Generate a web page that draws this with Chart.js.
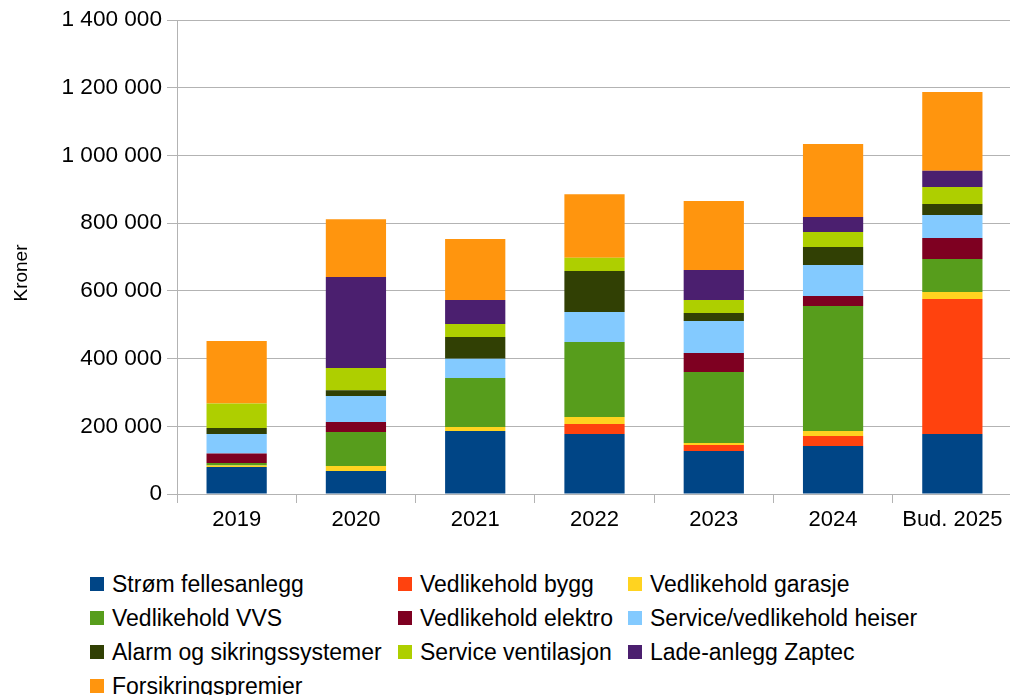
<!DOCTYPE html>
<html lang="no">
<head>
<meta charset="utf-8">
<title>Kostnader per år</title>
<script src="https://cdn.jsdelivr.net/npm/chart.js@4.4.1/dist/chart.umd.min.js"></script>
<style>
  html, body { margin: 0; padding: 0; background: #fff; overflow: hidden; }
  #wrap { position: absolute; left: 0; top: 0; width: 1013px; height: 560px; }
  #legend {
    position: absolute; left: 90px; top: 567px;
    display: grid; grid-template-columns: 308px 230px auto;
    grid-auto-rows: 34px;
    font-family: "Liberation Sans", Arial, sans-serif; font-size: 23px; color: #000;
  }
  .item { display: flex; align-items: center; white-space: nowrap; }
  .sw { width: 14px; height: 14px; margin-right: 8px; flex: none; }
</style>
</head>
<body>
<div id="wrap"><canvas id="c" width="1013" height="560"></canvas></div>
<div id="legend"></div>
<script>
// Years on the category axis
const categories = ['2019', '2020', '2021', '2022', '2023', '2024', 'Bud. 2025'];

// Cost per item in kroner, stacked bottom to top
const stromFellesanlegg   = [80000, 68000, 186000, 177000, 127000, 142000, 177000];
const vedlikeholdBygg     = [0, 0, 0, 29500, 17700, 29500, 399000];
const vedlikeholdGarasje  = [3900, 14800, 11800, 20700, 5900, 14800, 20700];
const vedlikeholdVVS      = [8000, 100000, 144700, 221500, 209700, 369000, 97500];
const vedlikeholdElektro  = [27600, 29500, 0, 0, 56000, 29500, 62000];
const heiser              = [58000, 76800, 57000, 88600, 94500, 91600, 68000];
const alarm               = [17700, 17700, 64000, 121000, 23600, 53000, 32500];
const ventilasjon         = [71800, 65000, 38400, 39400, 38400, 44300, 50200];
const ladeanlegg          = [0, 268800, 70900, 0, 88600, 44300, 48000];
const forsikring          = [185000, 171000, 180000, 188000, 203800, 215600, 232500];

// Value axis ticks
const yTicks = [0, 200000, 400000, 600000, 800000, 1000000, 1200000, 1400000];
const yTitle = 'Kroner';

const seriesNames = [
  'Strøm fellesanlegg', 'Vedlikehold bygg', 'Vedlikehold garasje',
  'Vedlikehold VVS', 'Vedlikehold elektro', 'Service/vedlikehold heiser',
  'Alarm og sikringssystemer', 'Service ventilasjon', 'Lade-anlegg Zaptec',
  'Forsikringspremier'
];
const seriesValues = [
  stromFellesanlegg, vedlikeholdBygg, vedlikeholdGarasje, vedlikeholdVVS,
  vedlikeholdElektro, heiser, alarm, ventilasjon, ladeanlegg, forsikring
];
const seriesColors = [
  '#004586', '#ff420e', '#ffd320', '#579d1c', '#7e0021',
  '#83caff', '#314004', '#aecf00', '#4b1f6f', '#ff950e'
];

const FONT = '"Liberation Sans", Arial, sans-serif';
const GRID = '#b3b3b3';

function spaced(v) {
  return String(v).replace(/\B(?=(\d{3})+(?!\d))/g, ' ');
}

// Rotated axis title placed beside the value axis
const axisTitle = {
  id: 'axisTitle',
  afterDraw(chart) {
    const ctx = chart.ctx;
    ctx.save();
    ctx.translate(22, 273);
    ctx.rotate(-Math.PI / 2);
    ctx.font = '19px ' + FONT;
    ctx.fillStyle = '#000';
    ctx.textAlign = 'center';
    ctx.textBaseline = 'middle';
    ctx.fillText(yTitle, 0, 0);
    ctx.restore();
  }
};

const chart = new Chart(document.getElementById('c'), {
  type: 'bar',
  data: {
    labels: categories,
    datasets: seriesNames.map((name, i) => ({
      label: name,
      data: seriesValues[i],
      backgroundColor: seriesColors[i],
      borderWidth: 0,
      barPercentage: 0.505,
      categoryPercentage: 1
    }))
  },
  options: {
    responsive: false,
    animation: false,
    devicePixelRatio: 1,
    layout: { padding: { top: 20, right: 1, left: 0, bottom: 0 } },
    plugins: {
      legend: { display: false },
      tooltip: { enabled: false }
    },
    scales: {
      x: {
        stacked: true,
        offset: true,
        grid: {
          display: true, offset: true, drawOnChartArea: false,
          drawTicks: true, tickLength: 9, color: GRID, lineWidth: 1
        },
        border: { display: true, color: GRID },
        ticks: { color: '#000', font: { family: FONT, size: 22 }, padding: 4, maxRotation: 0 },
        afterFit(s) { s.height = 66; }
      },
      y: {
        stacked: true,
        min: 0,
        max: 1400000,
        afterBuildTicks(s) { s.ticks = yTicks.map(v => ({ value: v })); },
        grid: { color: GRID, lineWidth: 1, tickLength: 10, drawTicks: true },
        border: { display: true, color: GRID },
        ticks: {
          color: '#000', font: { family: FONT, size: 22.6 }, padding: 5,
          callback: v => spaced(v)
        },
        afterFit(s) { s.width = 177; }
      }
    }
  },
  plugins: [axisTitle]
});

// Legend in three columns, built from the datasets
const legend = document.getElementById('legend');
chart.data.datasets.forEach(ds => {
  const item = document.createElement('div');
  item.className = 'item';
  const sw = document.createElement('span');
  sw.className = 'sw';
  sw.style.background = ds.backgroundColor;
  const tx = document.createElement('span');
  tx.textContent = ds.label;
  item.appendChild(sw);
  item.appendChild(tx);
  legend.appendChild(item);
});
</script>
</body>
</html>
